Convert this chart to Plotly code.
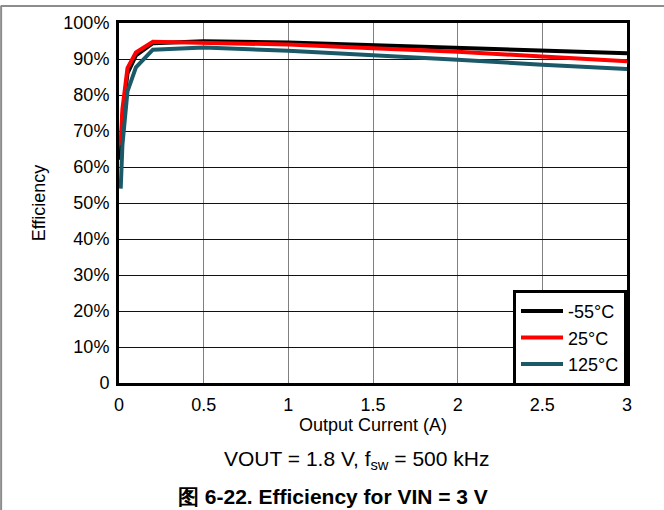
import plotly.graph_objects as go

current_a = [0.01, 0.02, 0.05, 0.1, 0.2, 0.5, 1.0, 1.5, 2.0, 2.5, 3.0]
eff_m55 = [62, 74, 86, 91.0, 94.4, 94.9, 94.6, 93.9, 93.2, 92.4, 91.6]
eff_25 = [66, 76, 87.5, 91.8, 94.8, 94.6, 94.0, 93.0, 92.0, 90.7, 89.4]
eff_125 = [54, 66, 81, 87.7, 92.6, 93.2, 92.3, 91.1, 89.8, 88.4, 87.2]

series_names = ["-55°C", "25°C", "125°C"]
series_colors = ["#000000", "#ff0000", "#1b5868"]

y_tickvals = [0, 10, 20, 30, 40, 50, 60, 70, 80, 90, 100]
y_ticktext = ["0", "10%", "20%", "30%", "40%", "50%", "60%", "70%", "80%", "90%", "100%"]
x_tickvals = [0, 0.5, 1, 1.5, 2, 2.5, 3]
x_ticktext = ["0", "0.5", "1", "1.5", "2", "2.5", "3"]

FONT = "Liberation Sans, Arial, sans-serif"

fig = go.Figure()
for name, ys, col in zip(series_names, [eff_m55, eff_25, eff_125], series_colors):
    fig.add_trace(go.Scatter(x=current_a, y=ys, mode="lines", name=name,
                             line=dict(color=col, width=4)))

W, H = 664, 510
L, R, T, B = 118.5, 627, 23, 383
pw, ph = R - L, B - T

def px(xp):
    return (xp - L) / pw

def py(yp):
    return (B - yp) / ph

fig.update_layout(
    width=W, height=H,
    margin=dict(l=L, r=W - R, t=T, b=H - B, pad=0),
    paper_bgcolor="white", plot_bgcolor="white",
    font=dict(family=FONT, size=18, color="black"),
    showlegend=True,
    legend=dict(x=1, y=-0.008, xanchor="right", yanchor="bottom",
                bgcolor="white", bordercolor="black", borderwidth=3,
                font=dict(size=18, family=FONT), itemwidth=42,
                tracegroupgap=0),
    xaxis=dict(range=[0, 3], tickvals=x_tickvals, ticktext=x_ticktext,
               showgrid=True, gridcolor="#808080", gridwidth=1,
               showline=True, linecolor="black", linewidth=3, mirror=True,
               ticks="", zeroline=False, tickfont=dict(size=18), ticklabelstandoff=3,
               title=dict(text="Output Current (A)", font=dict(size=18), standoff=0)),
    yaxis=dict(range=[0, 100], tickvals=y_tickvals, ticktext=y_ticktext,
               showgrid=True, gridcolor="#111111", gridwidth=1,
               showline=True, linecolor="black", linewidth=3, mirror=True,
               ticks="", zeroline=False, tickfont=dict(size=18), ticklabelstandoff=3,
               title=dict(text="Efficiency", font=dict(size=18), standoff=14)),
    shapes=[
        dict(type="line", xref="paper", yref="paper", x0=px(0), x1=px(W), y0=py(6), y1=py(6),
             line=dict(color="#8c8c8c", width=2)),
        dict(type="line", xref="paper", yref="paper", x0=px(0.5), x1=px(0.5), y0=py(6), y1=py(H),
             line=dict(color="#8c8c8c", width=2)),
    ],
    annotations=[
        dict(xref="paper", yref="paper", x=px(356), y=py(460), xanchor="center", yanchor="middle",
             text="VOUT = 1.8 V, f<sub>sw</sub> = 500 kHz", showarrow=False,
             font=dict(size=21, family=FONT)),
        dict(xref="paper", yref="paper", x=px(333), y=py(496.5), xanchor="center", yanchor="middle",
             text="<b>图 6-22. Efficiency for VIN = 3 V</b>", showarrow=False,
             font=dict(size=21, family=FONT)),
    ],
)

fig.write_html("out.html", config={"displayModeBar": False},
               post_script="document.body.style.margin='0';document.body.style.overflow='hidden';")
